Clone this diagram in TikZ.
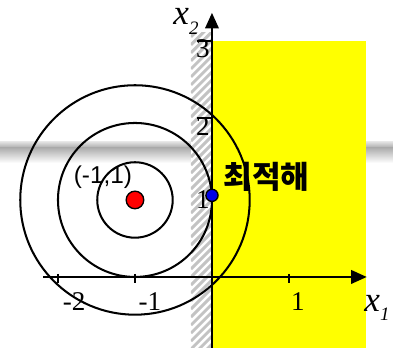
\documentclass[tikz,border=0pt]{standalone}
\usepackage{fontspec}
\setmainfont{Liberation Serif}
\newfontfamily\labelsans{Liberation Sans}
\newfontfamily\korfont{Noto Sans CJK KR}
\usetikzlibrary{arrows.meta, positioning, calc}
\definecolor{feasyellow}{RGB}{255,255,0}
\definecolor{optblue}{RGB}{0,0,230}
\definecolor{centred}{RGB}{255,0,0}
\definecolor{hatchgray}{RGB}{195,195,195}
\tikzset{
    % level curves of the objective
    contour/.style={draw=black, line width=1.5pt},
    % coordinate axes
    axis/.style={line width=1.5pt, -{Triangle[length=11.5pt, width=10pt]}},
    % short tick marks
    tick/.style={line width=1.5pt},
    % tick numbers on the axes
    ticknum/.style={font=\fontsize{20}{20}\selectfont, inner sep=0pt},
    % filled dots (centre and optimum)
    dot/.style={circle, draw=black, line width=1pt, inner sep=0pt},
    % stripes of the infeasible side
    stripe/.style={hatchgray, line width=2.2pt},
}
\newcommand{\axlabel}[2]{\fontsize{26}{26}\selectfont\itshape #1\raisebox{-7pt}{\fontsize{14}{14}\selectfont #2}}

\begin{document}
\begin{tikzpicture}[x=2cm, y=2cm]
    \useasboundingbox (-2.753,-0.922) rectangle (2.416,3.597);

    % ===== background band =====
    \shade[top color=gray!25, bottom color=gray!65] (-2.753,1.753) rectangle (2.35,1.68);
    \shade[top color=gray!65, bottom color=white] (-2.753,1.68) rectangle (2.35,1.48);

    % ===== feasible region and hatched boundary =====
    \fill[feasyellow] (0,-0.922) rectangle (2.0,3.065);
    \fill[white] (-0.273,-0.922) rectangle (0,3.17);
    \begin{scope}
        \clip (-0.273,-0.922) rectangle (0,3.17);
        \foreach \k in {0,...,42}
            \draw[stripe] (-0.273,{-1.25+0.104*\k}) -- ++(0.3,0.3);
    \end{scope}

    % ===== contours round the centre =====
    \coordinate (ctr) at (-1,1);
    \draw[contour] (ctr) circle (0.49);
    \draw[contour] (ctr) circle (1);
    \draw[contour] (ctr) circle (1.49);

    % ===== axes =====
    \coordinate (xstart) at (-2.19,0);
    \coordinate (xend)   at (2.01,0);
    \coordinate (ystart) at (0,-0.922);
    \coordinate (yend)   at (0,3.43);
    \draw[axis] (xstart) -- (xend);
    \draw[axis] (ystart) -- (yend);

    % ticks
    \foreach \t in {-2,-1,1}
        \draw[tick] (\t,0.04) -- (\t,-0.08);
    \foreach \t in {2.07,3.06}
        \draw[tick] (-0.19,\t) -- (0,\t);

    % tick numbers
    \node[ticknum] (ythree) at (-0.117,2.96)  {3};
    \node[ticknum] (ytwo)   at (-0.117,1.95)  {2};
    \node[ticknum] (yone)   at (-0.117,1.01)  {1};
    \node[ticknum] (xmtwo)  at (-1.79,-0.325) {-2};
    \node[ticknum] (xmone)  at (-0.805,-0.325) {-1};
    \node[ticknum] (xone)   at (1.117,-0.325) {1};

    % axis names
    \node[inner sep=0pt] (xlab) at (2.143,-0.40) {\axlabel{x}{1}};
    \node[inner sep=0pt] (ylab) at (-0.338,3.32) {\axlabel{x}{2}};

    % ===== centre and optimum =====
    \node[dot, fill=centred, minimum size=13pt] (cdot) at (ctr) {};
    \node[dot, fill=optblue, minimum size=9pt]  (odot) at (0,1.06) {};
    \node[font=\labelsans\fontsize{18}{18}\selectfont, inner sep=0pt]
        (clab) at (-1.416,1.30) {(-1,1)};
    \node[font=\korfont\bfseries\fontsize{23}{23}\selectfont, inner sep=0pt]
        (olab) at (0.71,1.30) {최적해};

\end{tikzpicture}
\end{document}
